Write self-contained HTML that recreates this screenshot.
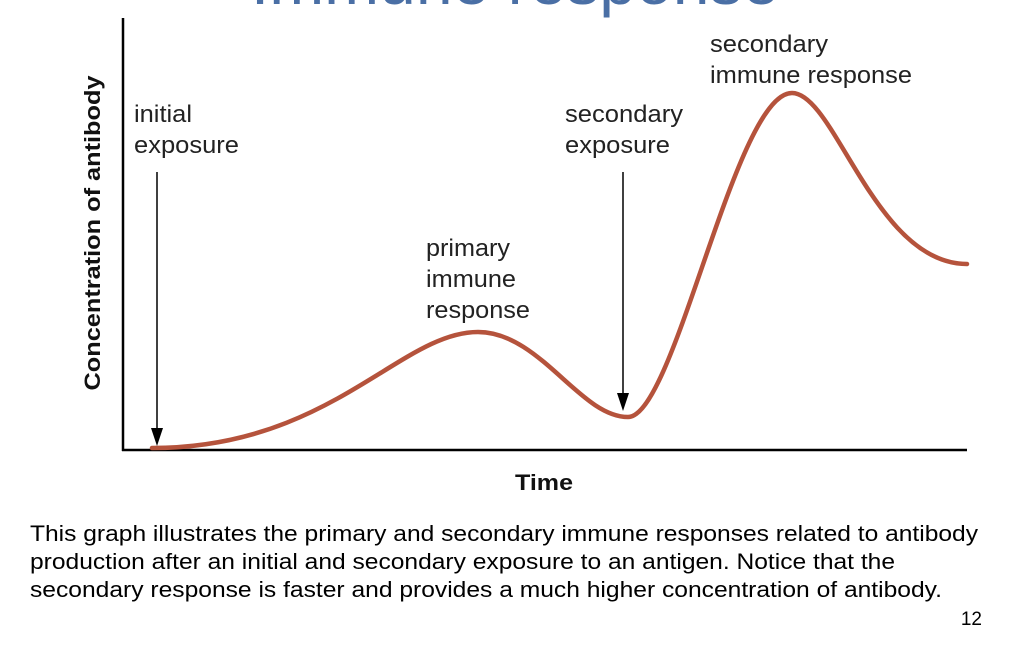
<!DOCTYPE html>
<html><head><meta charset="utf-8"><style>
html,body{margin:0;padding:0;background:#fff;}
body{width:1034px;height:656px;overflow:hidden;position:relative;font-family:"Liberation Sans",Arial,sans-serif;}
</style></head><body>
<svg width="1034" height="656" viewBox="0 0 1034 656" xmlns="http://www.w3.org/2000/svg" style="position:absolute;left:0;top:0">
<text x="515" y="4" text-anchor="middle" font-family="Liberation Sans, sans-serif" font-size="66" fill="#4a6fa5">Immune response</text>
<line x1="123" y1="18" x2="123" y2="451" stroke="#000" stroke-width="2.5"/>
<line x1="122" y1="450" x2="967" y2="450" stroke="#000" stroke-width="2.5"/>
<path d="M152,448 C330,448 400,332 478,332 C540,332 580,417 628,417 C675,417 735,93 792,93 C835,93 875,264 967,264" fill="none" stroke="#b5533c" stroke-width="4.5" stroke-linecap="round"/>
<line x1="157" y1="172" x2="157" y2="430" stroke="#000" stroke-width="1.5"/>
<polygon points="151,428 163,428 157,446" fill="#000"/>
<line x1="623" y1="172" x2="623" y2="395" stroke="#000" stroke-width="1.5"/>
<polygon points="617,393 629,393 623,411" fill="#000"/>
<g font-family="Liberation Sans, sans-serif" font-size="24" fill="#222">
<text x="134" y="122" textLength="58" lengthAdjust="spacingAndGlyphs">initial</text><text x="134" y="153" textLength="105" lengthAdjust="spacingAndGlyphs">exposure</text>
<text x="565" y="122" textLength="118" lengthAdjust="spacingAndGlyphs">secondary</text><text x="565" y="153" textLength="105" lengthAdjust="spacingAndGlyphs">exposure</text>
<text x="426" y="256" textLength="84" lengthAdjust="spacingAndGlyphs">primary</text><text x="426" y="287" textLength="90" lengthAdjust="spacingAndGlyphs">immune</text><text x="426" y="318" textLength="104" lengthAdjust="spacingAndGlyphs">response</text>
<text x="710" y="52" textLength="118" lengthAdjust="spacingAndGlyphs">secondary</text><text x="710" y="83" textLength="202" lengthAdjust="spacingAndGlyphs">immune response</text>
</g>
<text transform="translate(100,233) rotate(-90)" text-anchor="middle" font-family="Liberation Sans, sans-serif" font-weight="bold" font-size="22" fill="#111" textLength="315" lengthAdjust="spacingAndGlyphs">Concentration of antibody</text>
<text x="515" y="490" font-family="Liberation Sans, sans-serif" font-weight="bold" font-size="22" fill="#111" textLength="58" lengthAdjust="spacingAndGlyphs">Time</text>
<g font-family="Liberation Sans, sans-serif" font-size="22" fill="#000">
<text x="30" y="541" textLength="948" lengthAdjust="spacingAndGlyphs">This graph illustrates the primary and secondary immune responses related to antibody</text>
<text x="30" y="569" textLength="865" lengthAdjust="spacingAndGlyphs">production after an initial and secondary exposure to an antigen. Notice that the</text>
<text x="30" y="597" textLength="912" lengthAdjust="spacingAndGlyphs">secondary response is faster and provides a much higher concentration of antibody.</text>
<text x="982" y="625" text-anchor="end" font-size="19">12</text>
</g>
</svg>
</body></html>
